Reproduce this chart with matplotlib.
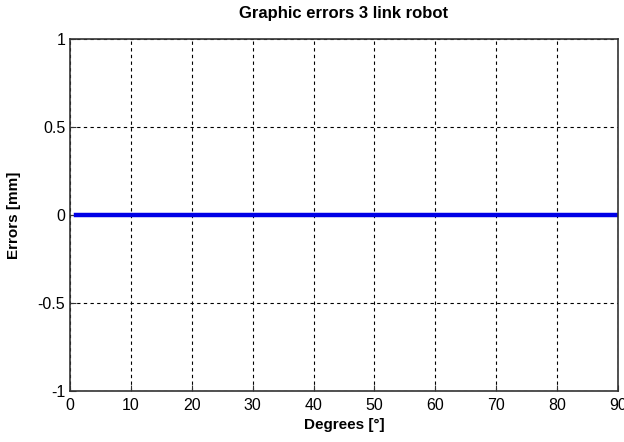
import numpy as np
import matplotlib
matplotlib.use("Agg")
from matplotlib import pyplot as plt

degrees = np.arange(1, 91)
errors = np.zeros(len(degrees))
xticks = [0, 10, 20, 30, 40, 50, 60, 70, 80, 90]
yticks = [-1, -0.5, 0, 0.5, 1]
yticklabels = ["-1", "-0.5", "0", "0.5", "1"]

plt.rcParams['font.family'] = ['Liberation Sans', 'DejaVu Sans']

fig = plt.figure(figsize=(6.24, 4.42), dpi=100)
ax = fig.add_axes([70 / 624, 51 / 442, 548 / 624, 352 / 442])
ax.plot(degrees, errors, color="#0000e6", linewidth=3.2)

ax.set_xlim(0, 90)
ax.set_ylim(-1, 1)
ax.set_xticks(xticks)
ax.set_yticks(yticks)
ax.set_yticklabels(yticklabels)
ax.tick_params(direction="in", length=4, labelsize=11.5, color="#333333")
ax.tick_params(axis="x", pad=5)
ax.grid(True, color="black", linestyle=(0, (3, 3)), linewidth=0.8)
for s in ax.spines.values():
    s.set_color("#333333")
    s.set_linewidth(1.2)

ax.set_title("Graphic errors 3 link robot", fontsize=12, fontweight="bold", pad=15)
ax.set_xlabel("Degrees [°]", fontsize=11, fontweight="bold", labelpad=4)
ax.set_ylabel("Errors [mm]", fontsize=11, fontweight="bold", labelpad=12)

fig.savefig("out.png", dpi=100)
